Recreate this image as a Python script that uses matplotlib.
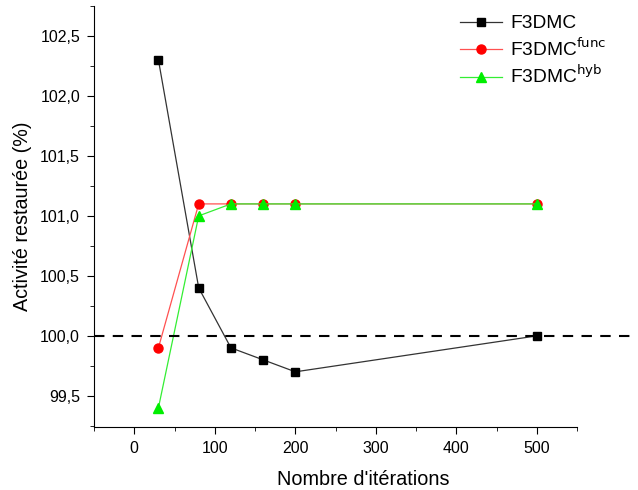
import numpy as np
import matplotlib.pyplot as plt
from matplotlib.ticker import MultipleLocator, FuncFormatter

plt.rcParams['font.family'] = ['Liberation Sans', 'DejaVu Sans']

iterations = [30, 80, 120, 160, 200, 500]
f3dmc = [102.3, 100.4, 99.9, 99.8, 99.7, 100.0]
f3dmc_func = [99.9, 101.1, 101.1, 101.1, 101.1, 101.1]
f3dmc_hyb = [99.4, 101.0, 101.1, 101.1, 101.1, 101.1]

fig = plt.figure(figsize=(6.38, 4.9), dpi=100)
ax = fig.add_axes([94/638, 63/490, (632-94)/638, (427-6)/490])

ax.plot(iterations, f3dmc, '-s', color='#333333', mfc='black', mec='black',
        lw=0.9, ms=6, label='F3DMC')
ax.plot(iterations, f3dmc_func, '-o', color='#ff5050', mfc='red', mec='red',
        lw=0.9, ms=6.5, label='F3DMC$^{\\mathrm{func}}$')
ax.plot(iterations, f3dmc_hyb, '-^', color='#33ee33', mfc='#00ee00', mec='#00ee00',
        lw=0.9, ms=7, label='F3DMC$^{\\mathrm{hyb}}$')

ax.axhline(100, color='black', ls=(0, (5, 4)), lw=1.5)

ax.set_xlim(-50, 618)
ax.set_ylim(99.24, 102.75)
ax.spines['top'].set_visible(False)
ax.spines['right'].set_visible(False)
ax.spines['bottom'].set_bounds(-50, 550)
ax.xaxis.set_major_locator(plt.FixedLocator([0, 100, 200, 300, 400, 500]))
ax.xaxis.set_minor_locator(plt.FixedLocator([-50, 50, 150, 250, 350, 450, 550]))
ax.yaxis.set_major_locator(MultipleLocator(0.5))
ax.yaxis.set_minor_locator(MultipleLocator(0.25))
ax.yaxis.set_major_formatter(FuncFormatter(lambda v, p: f"{v:.1f}".replace('.', ',')))
ax.tick_params(which='both', direction='out', labelsize=11.5)
ax.tick_params(which='major', length=5, pad=5)
ax.tick_params(which='minor', length=3)

ax.set_xlabel("Nombre d'itérations", fontsize=14.3, labelpad=10)
ax.set_ylabel("Activité restaurée (%)", fontsize=14.2, labelpad=6)

ax.legend(loc='upper right', bbox_to_anchor=(0.985, 1.02), frameon=False, fontsize=13.8,
          handlelength=2.2, handletextpad=0.45, labelspacing=0.28)

fig.savefig('out.png', dpi=100)
